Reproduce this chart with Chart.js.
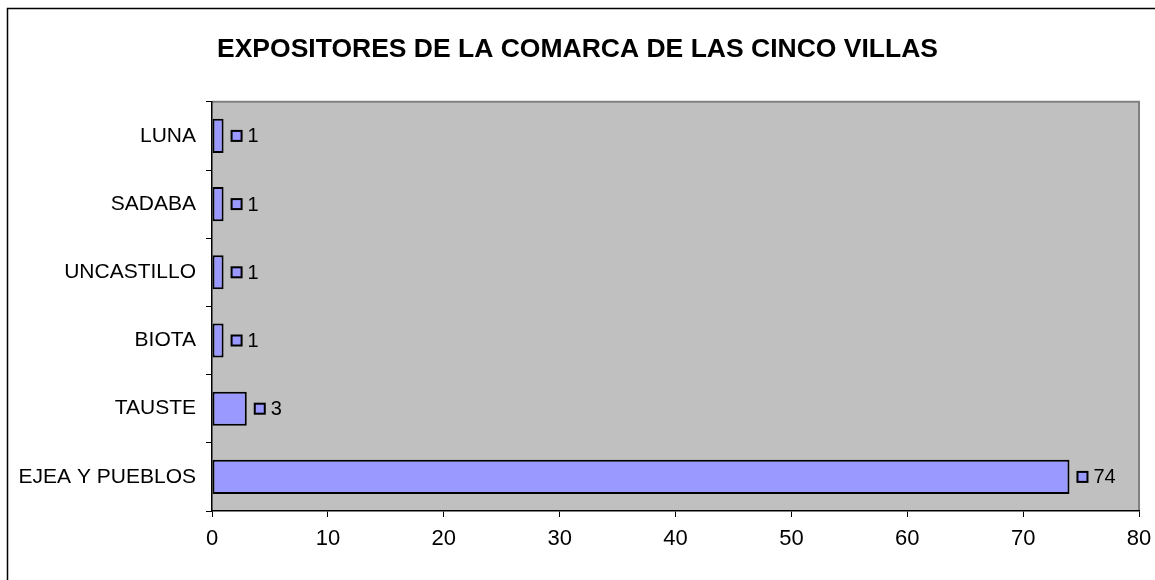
<!DOCTYPE html>
<html>
<head>
<meta charset="utf-8">
<script src="https://cdn.jsdelivr.net/npm/chart.js@4.4.0/dist/chart.umd.min.js"></script>
<style>
  html, body { margin: 0; padding: 0; background: #ffffff; }
  #wrap { width: 1155px; height: 580px; }
</style>
</head>
<body>
<div id="wrap"><canvas id="myChart" width="1155" height="580"></canvas></div>
<script>
const categories = ['LUNA', 'SADABA', 'UNCASTILLO', 'BIOTA', 'TAUSTE', 'EJEA Y PUEBLOS'];
const expositores = [1, 1, 1, 1, 3, 74];
const xTicks = [0, 10, 20, 30, 40, 50, 60, 70, 80];

const FONT = "'Liberation Sans', Arial, sans-serif";
const BAR_COLOR = '#9999FF';

// marco exterior + fondo gris del area de trazado
const backgroundPlugin = {
    id: 'fondo',
    beforeDraw(chart) {
        const ctx = chart.ctx;
        ctx.save();
        ctx.fillStyle = '#ffffff';
        ctx.fillRect(0, 0, chart.width, chart.height);
        ctx.strokeStyle = '#000000';
        ctx.lineWidth = 1.5;
        ctx.strokeRect(7.5, 8.5, chart.width + 20, chart.height + 20);
        const a = chart.chartArea;
        ctx.fillStyle = '#C0C0C0';
        ctx.fillRect(a.left, a.top, a.right - a.left, a.bottom - a.top);
        ctx.strokeStyle = '#808080';
        ctx.lineWidth = 2;
        ctx.beginPath();
        ctx.moveTo(a.left, a.top);
        ctx.lineTo(a.right, a.top);
        ctx.lineTo(a.right, a.bottom);
        ctx.stroke();
        ctx.restore();
    }
};

// etiqueta de valor con la clave de leyenda pequeña
const labelPlugin = {
    id: 'etiquetas',
    afterDatasetsDraw(chart) {
        const ctx = chart.ctx;
        const meta = chart.getDatasetMeta(0);
        ctx.save();
        ctx.font = '20px ' + FONT;
        ctx.textBaseline = 'middle';
        ctx.textAlign = 'left';
        meta.data.forEach((bar, i) => {
            const x = bar.x + 8;
            const y = bar.y;
            ctx.fillStyle = BAR_COLOR;
            ctx.fillRect(x, y - 5, 10, 10);
            ctx.strokeStyle = '#000000';
            ctx.lineWidth = 2;
            ctx.strokeRect(x, y - 5, 10, 10);
            ctx.fillStyle = '#000000';
            ctx.fillText(String(expositores[i]), x + 16, y + 1);
        });
        ctx.restore();
    }
};

new Chart(document.getElementById('myChart'), {
    type: 'bar',
    data: {
        labels: categories,
        datasets: [{
            label: 'Expositores',
            data: expositores,
            backgroundColor: BAR_COLOR,
            borderColor: '#000000',
            borderWidth: 2,
            borderSkipped: false,
            categoryPercentage: 1.0,
            barPercentage: 0.5
        }]
    },
    plugins: [backgroundPlugin, labelPlugin],
    options: {
        indexAxis: 'y',
        responsive: false,
        animation: false,
        devicePixelRatio: 1,
        layout: { padding: 0 },
        plugins: {
            legend: { display: false },
            tooltip: { enabled: false },
            title: {
                display: true,
                text: 'EXPOSITORES DE LA COMARCA DE LAS CINCO VILLAS',
                color: '#000000',
                font: { family: FONT, size: 26.5, weight: 'bold' },
                padding: { top: 34, bottom: 36 }
            }
        },
        scales: {
            x: {
                min: 0,
                max: 80,
                afterBuildTicks: (axis) => { axis.ticks = xTicks.map(v => ({ value: v })); },
                afterFit: (axis) => {
                    axis.height = 69;
                    axis.paddingLeft = 0;
                    axis.paddingRight = 16;
                },
                grid: {
                    drawOnChartArea: false,
                    drawTicks: true,
                    tickLength: 6,
                    color: '#000000'
                },
                border: { color: '#000000', width: 1.5 },
                ticks: {
                    color: '#000000',
                    font: { family: FONT, size: 22 },
                    padding: 9,
                    maxRotation: 0
                }
            },
            y: {
                afterFit: (axis) => { axis.width = 212; },
                grid: {
                    offset: true,
                    drawOnChartArea: false,
                    drawTicks: true,
                    tickLength: 6,
                    color: '#000000'
                },
                border: { color: '#000000', width: 1.5 },
                ticks: {
                    color: '#000000',
                    font: { family: FONT, size: 21 },
                    padding: 10
                }
            }
        }
    }
});
</script>
</body>
</html>
